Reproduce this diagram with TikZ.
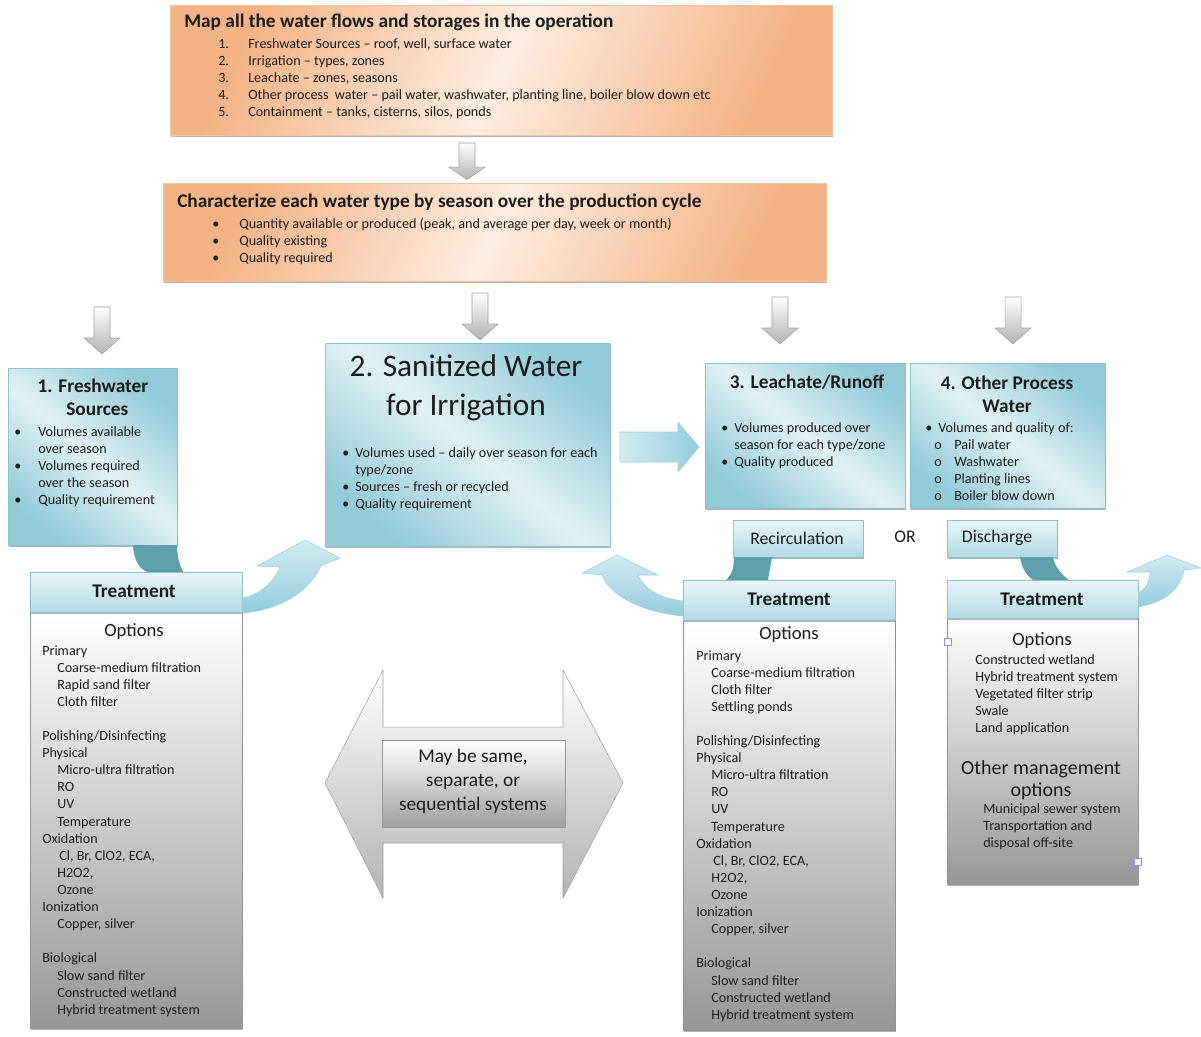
\documentclass[tikz,border=0pt]{standalone}
\usepackage{fontspec}
\setmainfont{Carlito}
\usetikzlibrary{shadows}
\definecolor{orD}{HTML}{F4B385}
\definecolor{orL}{HTML}{FDEDE1}
\definecolor{blD}{HTML}{93CAD8}
\definecolor{blL}{HTML}{E0F1F5}
\definecolor{blE}{HTML}{8CC2D0}
\definecolor{hdT}{HTML}{E8F5F8}
\definecolor{hdB}{HTML}{B2DAE4}
\definecolor{bandc}{HTML}{5F9FAA}
\definecolor{arT}{HTML}{D2ECF2}
\definecolor{arB}{HTML}{95CCDA}
\definecolor{gyD}{HTML}{979797}
\definecolor{txt}{HTML}{1C1C1C}
\newcommand\tind{\hspace*{11.25pt}}
\tikzset{
  shad/.style={drop shadow={shadow xshift=0.8pt,shadow yshift=-1.3pt,opacity=0.3,fill=black}},
  orangebox/.style={shad, draw=orD!80, top color=orD, bottom color=orD, middle color=orL, shading angle=65, inner sep=0pt, anchor=north west},
  bluebox/.style={shad, draw=blE, top color=blD, bottom color=blD, middle color=blL, shading angle=-40, inner sep=0pt, anchor=north west},
  hdbox/.style={shad, draw=blE, top color=hdT, bottom color=hdB, inner sep=0pt, anchor=north west},
  bodybox/.style={shad, draw=gray!85, top color=white, bottom color=gyD, inner sep=0pt, anchor=north west},
  grayarrow/.style={draw=gray!75, top color=white, bottom color=gray!60},
  bandstyle/.style={fill=bandc, draw=none},
  curvarrow/.style={draw=blE!80, top color=arT, bottom color=arB},
  ttl/.style={font=\fontsize{14.5}{17.25}\selectfont\bfseries, inner sep=0pt, text=txt},
  sm/.style={font=\fontsize{10.6}{12.83}\selectfont, inner sep=0pt, align=left, anchor=north west, text=txt},
  reg/.style={font=\fontsize{14}{17}\selectfont, inner sep=0pt, text=txt},
  handle/.style={draw=blue!45, fill=white, minimum size=5.5pt, inner sep=0pt},
  downarr/.pic={\path[grayarrow] (-8,0) -- (8,0) -- (8,31) -- (18,31) -- (0,47) -- (-18,31) -- (-8,31) -- cycle;}
}
\begin{document}
\begin{tikzpicture}[x=0.75pt,y=-0.75pt]
\useasboundingbox (0,0) rectangle (1201,1036);

% ---------- top box
\node[orangebox, minimum width=496.5pt, minimum height=97.5pt] (map) at (170,5) {};
\node[ttl, anchor=west] (mapt) at (184,22) {Map all the water flows and storages in the operation};
\node[sm] (mapl) at (218,38) {%
\makebox[22.5pt][l]{1.}Freshwater Sources – roof, well, surface water\\
\makebox[22.5pt][l]{2.}Irrigation – types, zones\\
\makebox[22.5pt][l]{3.}Leachate – zones, seasons\\
\makebox[22.5pt][l]{4.}Other process\ \ water – pail water, washwater, planting line, boiler blow down etc\\
\makebox[22.5pt][l]{5.}Containment – tanks, cisterns, silos, ponds};

\pic at (467,143) [yscale=0.78] {downarr};

% ---------- characterize box
\node[orangebox, minimum width=497.25pt, minimum height=73.5pt] (chr) at (163,183) {};
\node[ttl, anchor=west] (chrt) at (177,202) {Characterize each water type by season over the production cycle};
\node[sm] (chrl) at (212,218) {%
\makebox[20.25pt][l]{•}Quantity available or produced (peak, and average per day, week or month)\\
\makebox[20.25pt][l]{•}Quality existing\\
\makebox[20.25pt][l]{•}Quality required};

\pic at (102,307) {downarr};
\pic at (480,293) {downarr};
\pic at (780,297) {downarr};
\pic at (1013,297) {downarr};

% ---------- box 1
\node[bluebox, minimum width=126.75pt, minimum height=132.75pt] (fresh) at (8,368) {};
\node[ttl, align=center, anchor=north] (fresht) at (93,379) {1. Freshwater\\\ \ Sources};
\node[sm] (freshl) at (14,426) {%
\makebox[18pt][l]{•}Volumes available\\
\hspace*{18pt}over season\\
\makebox[18pt][l]{•}Volumes required\\
\hspace*{18pt}over the season\\
\makebox[18pt][l]{•}Quality requirement};

% ---------- box 2
\node[bluebox, minimum width=213.75pt, minimum height=152.25pt] (sanit) at (325,343) {};
\node[font=\fontsize{23.5}{29.25}\selectfont, inner sep=0pt, text=txt, align=center, anchor=north] (sanitt) at (466,354) {2. Sanitized Water\\for Irrigation};
\node[sm] (sanitl) at (342,447) {%
\makebox[9.75pt][l]{•}Volumes used – daily over season for each\\
\hspace*{9.75pt}type/zone\\
\makebox[9.75pt][l]{•}Sources – fresh or recycled\\
\makebox[9.75pt][l]{•}Quality requirement};

% straight arrow box2 -> box3
\path[curvarrow, left color=arT, right color=arB] (620,432) -- (678,432) -- (678,422) -- (699,447) -- (678,472) -- (678,462) -- (620,462) -- cycle;

% ---------- box 3
\node[bluebox, minimum width=150pt, minimum height=108.75pt] (leach) at (705,363) {};
\node[ttl, anchor=north] (leacht) at (807,375) {3. Leachate/Runoff};
\node[sm] (leachl) at (721,422) {%
\makebox[9.75pt][l]{•}Volumes produced over\\
\hspace*{9.75pt}season for each type/zone\\
\makebox[9.75pt][l]{•}Quality produced};

% ---------- box 4
\node[bluebox, minimum width=146.25pt, minimum height=108.75pt] (other) at (910,363) {};
\node[ttl, align=center, anchor=north] (othert) at (1007,376) {4. Other Process\\Water};
\node[sm] (otherl) at (925,422) {%
\makebox[9.75pt][l]{•}Volumes and quality of:\\
\hspace*{6.75pt}\makebox[15pt][l]{o}Pail water\\
\hspace*{6.75pt}\makebox[15pt][l]{o}Washwater\\
\hspace*{6.75pt}\makebox[15pt][l]{o}Planting lines\\
\hspace*{6.75pt}\makebox[15pt][l]{o}Boiler blow down};

% ---------- recirculation / discharge
\node[hdbox, minimum width=97.5pt, minimum height=27.75pt] (recirc) at (733,520) {};
\node[font=\fontsize{13.3}{15}\selectfont, inner sep=0pt, text=txt] (recirct) at (797,538) {Recirculation};
\node[font=\fontsize{13.3}{15}\selectfont, inner sep=0pt, text=txt] (orword) at (905,537) {OR};
\node[hdbox, minimum width=82.5pt, minimum height=27.75pt] (disch) at (947,520) {};
\node[font=\fontsize{13.3}{15}\selectfont, inner sep=0pt, text=txt] (discht) at (997,538) {Discharge};

% ---------- bands
\path[bandstyle] (133,545) .. controls (134,562) and (140,570) .. (150,573) -- (184,573) .. controls (179,565) and (177,555) .. (177,545) -- cycle;
\path[bandstyle] (734,557) .. controls (734,569) and (731,576) .. (725,581) -- (768,581) .. controls (769,572) and (771,565) .. (772,557) -- cycle;
\path[bandstyle] (1020,557) .. controls (1022,569) and (1027,577) .. (1035,581) -- (1070,581) .. controls (1061,574) and (1055,567) .. (1053,557) -- cycle;

% ---------- treatment 1
\node[bodybox, minimum width=159pt, minimum height=312pt] (t1b) at (30,612) {};
\node[hdbox, minimum width=159pt, minimum height=30pt] (t1h) at (30,572) {};
\node[ttl] (t1ht) at (134,591) {Treatment};
\node[reg] (t1o) at (134,632) {Options};
\node[sm] (t1l) at (42,645) {%
Primary\\
\tind Coarse-medium filtration\\
\tind Rapid sand filter\\
\tind Cloth filter\\
\mbox{}\\
Polishing/Disinfecting\\
Physical\\
\tind Micro-ultra filtration\\
\tind RO\\
\tind UV\\
\tind Temperature\\
Oxidation\\
\hspace*{12.75pt}Cl, Br, ClO2, ECA,\\
\tind H2O2,\\
\tind Ozone\\
Ionization\\
\tind Copper, silver\\
\mbox{}\\
Biological\\
\tind Slow sand filter\\
\tind Constructed wetland\\
\tind Hybrid treatment system};

% ---------- treatment 2
\node[bodybox, minimum width=159pt, minimum height=307.5pt] (t2b) at (683,620) {};
\node[hdbox, minimum width=159pt, minimum height=30pt] (t2h) at (683,580) {};
\node[ttl] (t2ht) at (789,599) {Treatment};
\node[reg] (t2o) at (789,635) {Options};
\node[sm] (t2l) at (696,650) {%
Primary\\
\tind Coarse-medium filtration\\
\tind Cloth filter\\
\tind Settling ponds\\
\mbox{}\\
Polishing/Disinfecting\\
Physical\\
\tind Micro-ultra filtration\\
\tind RO\\
\tind UV\\
\tind Temperature\\
Oxidation\\
\hspace*{12.75pt}Cl, Br, ClO2, ECA,\\
\tind H2O2,\\
\tind Ozone\\
Ionization\\
\tind Copper, silver\\
\mbox{}\\
Biological\\
\tind Slow sand filter\\
\tind Constructed wetland\\
\tind Hybrid treatment system};

% ---------- treatment 3
\node[bodybox, minimum width=143.25pt, minimum height=199.5pt] (t3b) at (947,618) {};
\node[hdbox, minimum width=143.25pt, minimum height=28.5pt] (t3h) at (947,580) {};
\node[ttl] (t3ht) at (1042,599) {Treatment};
\node[reg] (t3o) at (1042,641) {Options};
\node[sm] (t3l) at (975,654) {%
Constructed wetland\\
Hybrid treatment system\\
Vegetated filter strip\\
Swale\\
Land application};
\node[font=\fontsize{15}{16.5}\selectfont, inner sep=0pt, text=txt, align=center] (t3m) at (1041,780) {Other management\\options};
\node[sm] (t3l2) at (983,803) {%
Municipal sewer system\\
Transportation and\\
disposal off-site};
\node[handle] (hnd1) at (948,642) {};
\node[handle] (hnd2) at (1138,862) {};

% ---------- curved arrows
\path[curvarrow] (242,613) .. controls (282,610) and (310,590) .. (321,566) -- (340,558) -- (305,540) -- (257,566) -- (280,567) .. controls (272,585) and (258,595) .. (242,598) -- cycle;
\path[curvarrow] (683,616) .. controls (640,612) and (610,595) .. (602,575) -- (582,573) -- (617,555) -- (658,575) -- (638,575) .. controls (645,590) and (660,598) .. (683,601) -- cycle;
\path[curvarrow] (1138,607) .. controls (1165,602) and (1180,590) .. (1184,570) -- (1201,568) -- (1167,555) -- (1127,572) -- (1150,572) .. controls (1150,582) and (1145,590) .. (1138,593) -- cycle;

% ---------- double arrow
\path[draw=gray!75, top color=white, bottom color=gray!60] (325,783) -- (383,670) -- (383,727) -- (563,727) -- (563,670) -- (623,783) -- (563,898) -- (563,843) -- (383,843) -- (383,898) -- cycle;
\node[draw=gray!80, top color=white, bottom color=gray!75, inner sep=0pt, anchor=north west, minimum width=137.25pt, minimum height=65.25pt] (same) at (382,740) {};
\node[font=\fontsize{14.5}{18}\selectfont, inner sep=0pt, text=txt, align=center] (samet) at (473,781) {May be same,\\separate, or\\sequential systems};
\end{tikzpicture}
\end{document}
